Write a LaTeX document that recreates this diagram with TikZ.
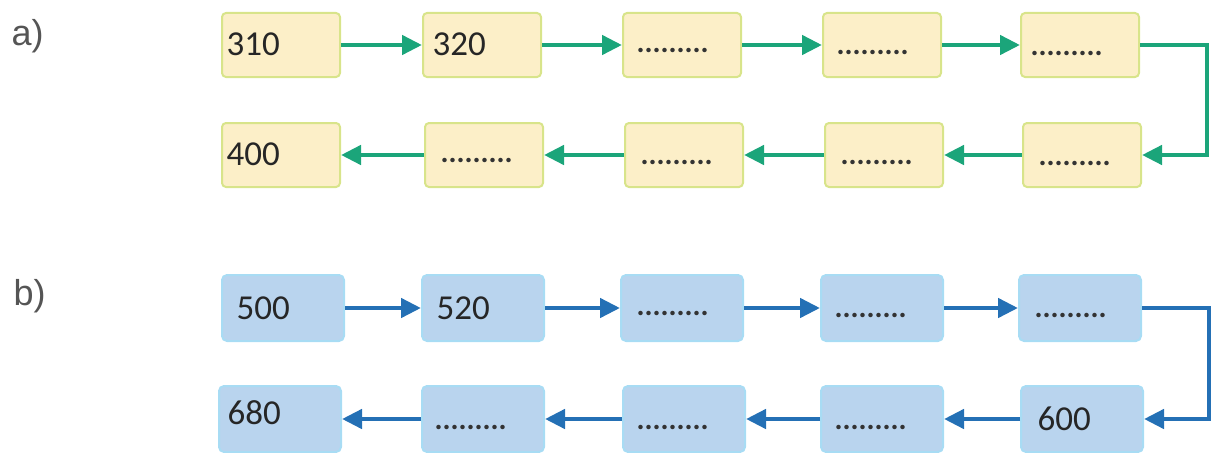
\documentclass[tikz,border=0pt]{standalone}
\usepackage{fontspec}
\setmainfont{Carlito}
\setsansfont{Liberation Sans}
\usetikzlibrary{arrows.meta}
\definecolor{yfill}{HTML}{FCEFC8}
\definecolor{yedge}{HTML}{D8E48A}
\definecolor{garrow}{HTML}{1BA57A}
\definecolor{bfill}{HTML}{B9D4EE}
\definecolor{bedge}{HTML}{A8DCF4}
\definecolor{barrow}{HTML}{2470B5}
\definecolor{lbl}{HTML}{555555}
\tikzset{
  x=1pt, y=-1pt,
  ybox/.style={draw=yedge, line width=2pt, fill=yfill, rounded corners=4pt,
    minimum width=118pt, minimum height=64pt, inner sep=0pt, anchor=center},
  bbox/.style={draw=bedge, line width=2pt, fill=bfill, rounded corners=5pt,
    minimum width=122pt, minimum height=66pt, inner sep=0pt, anchor=center},
  num/.style={font=\fontsize{35}{35}\selectfont, text=black!85, anchor=west},
  dots/.style={font=\fontsize{30}{30}\selectfont\bfseries, text=black!80, anchor=west},
  garr/.style={draw=garrow, line width=4.5pt, -{Triangle[length=20pt,width=19pt]}},
  barr/.style={draw=barrow, line width=4.5pt, -{Triangle[length=20pt,width=19pt]}},
  lab/.style={font=\fontsize{36}{36}\selectfont\sffamily, text=lbl, anchor=west}
}
\begin{document}
\begin{tikzpicture}
\useasboundingbox (0,0) rectangle (1214,452);
% labels
\node[lab] (la) at (8,36) {a)};
\node[lab] (lb) at (10,296) {b)};
% row a top
\node[ybox] (a1) at (281,45) {};
\node[ybox] (a2) at (482,45) {};
\node[ybox] (a3) at (682,45) {};
\node[ybox] (a4) at (882,45) {};
\node[ybox] (a5) at (1080,45) {};
% row a bottom
\node[ybox] (a6) at (1082,155) {};
\node[ybox] (a7) at (884,155) {};
\node[ybox] (a8) at (684,155) {};
\node[ybox] (a9) at (484,155) {};
\node[ybox] (a10) at (281,155) {};
% texts a
\node[num] (ta1) at (223,44) {310};
\node[num] (ta2) at (429,44) {320};
\node[dots] (ta3) at (633,50) {.........};
\node[dots] (ta4) at (833,52) {.........};
\node[dots] (ta5) at (1027,53) {.........};
\node[dots] (ta6) at (1035,163) {.........};
\node[dots] (ta7) at (837,162) {.........};
\node[dots] (ta8) at (637,162) {.........};
\node[dots] (ta9) at (437,160) {.........};
\node[num] (ta10) at (223,154) {400};
% arrows a
\draw[garr] (a1.east) -- (a2.west);
\draw[garr] (a2.east) -- (a3.west);
\draw[garr] (a3.east) -- (a4.west);
\draw[garr] (a4.east) -- (a5.west);
\draw[garr] (a5.east) -- ++(67,0) |- (a6.east);
\draw[garr] (a6.west) -- (a7.east);
\draw[garr] (a7.west) -- (a8.east);
\draw[garr] (a8.west) -- (a9.east);
\draw[garr] (a9.west) -- (a10.east);
% row b top
\node[bbox] (b1) at (283,308) {};
\node[bbox] (b2) at (483,308) {};
\node[bbox] (b3) at (682,308) {};
\node[bbox] (b4) at (882,308) {};
\node[bbox] (b5) at (1080,308) {};
% row b bottom
\node[bbox] (b6) at (1082,419) {};
\node[bbox] (b7) at (882,419) {};
\node[bbox] (b8) at (684,419) {};
\node[bbox] (b9) at (483,419) {};
\node[bbox] (b10) at (280,419) {};
% texts b
\node[num] (tb1) at (233,308) {500};
\node[num] (tb2) at (433,308) {520};
\node[dots] (tb3) at (633,313) {.........};
\node[dots] (tb4) at (831,315) {.........};
\node[dots] (tb5) at (1031,315) {.........};
\node[num] (tb6) at (1034,419) {600};
\node[dots] (tb7) at (831,427) {.........};
\node[dots] (tb8) at (633,427) {.........};
\node[dots] (tb9) at (431,427) {.........};
\node[num] (tb10) at (224,413) {680};
% arrows b
\draw[barr] (b1.east) -- (b2.west);
\draw[barr] (b2.east) -- (b3.west);
\draw[barr] (b3.east) -- (b4.west);
\draw[barr] (b4.east) -- (b5.west);
\draw[barr] (b5.east) -- ++(67,0) |- (b6.east);
\draw[barr] (b6.west) -- (b7.east);
\draw[barr] (b7.west) -- (b8.east);
\draw[barr] (b8.west) -- (b9.east);
\draw[barr] (b9.west) -- (b10.east);
\end{tikzpicture}
\end{document}
